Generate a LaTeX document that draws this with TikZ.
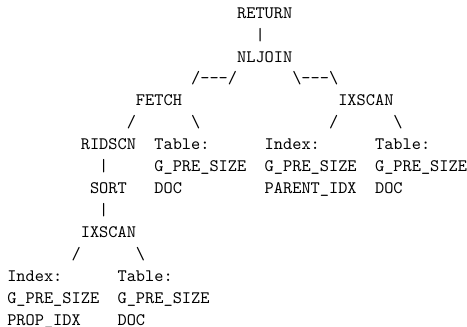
\documentclass[tikz,border=0pt]{standalone}
\usepackage{fontspec}
\usepackage{tikz}
\tikzset{
  tok/.style={font=\ttfamily,anchor=base west,inner sep=0pt,outer sep=0pt},
  every picture/.style={x=5.25pt,y=-12.52pt}
}
\begin{document}
\begin{tikzpicture}
  \useasboundingbox (-0.79,-0.83) rectangle (50,14.07);
  % top of the plan
  \node[tok] (ret) at (25,0) {RETURN};
  \node[tok] (b1) at (27,1) {|};
  \node[tok] (nlj) at (25,2) {NLJOIN};
  \node[tok] (lj) at (20,3) {/---/}; \node[tok] (rj) at (31,3) {\textbackslash---\textbackslash};
  \node[tok] (fetch) at (14,4) {FETCH}; \node[tok] (ixs) at (36,4) {IXSCAN};
  \node[tok] (s1) at (13,5) {/}; \node[tok] (s2) at (20,5) {\textbackslash};
  \node[tok] (s3) at (35,5) {/}; \node[tok] (s4) at (42,5) {\textbackslash};
  % second level
  \node[tok] (rid) at (8,6) {RIDSCN}; \node[tok] (t1) at (16,6) {Table:};
  \node[tok] (i1) at (28,6) {Index:}; \node[tok] (t2) at (40,6) {Table:};
  \node[tok] (b2) at (10,7) {|}; \node[tok] (t1a) at (16,7) {G\_PRE\_SIZE};
  \node[tok] (i1a) at (28,7) {G\_PRE\_SIZE}; \node[tok] (t2a) at (40,7) {G\_PRE\_SIZE};
  \node[tok] (sort) at (9,8) {SORT}; \node[tok] (t1b) at (16,8) {DOC};
  \node[tok] (i1b) at (28,8) {PARENT\_IDX}; \node[tok] (t2b) at (40,8) {DOC};
  % under the sort
  \node[tok] (b3) at (10,9) {|};
  \node[tok] (ixs2) at (8,10) {IXSCAN};
  \node[tok] (s5) at (7,11) {/}; \node[tok] (s6) at (14,11) {\textbackslash};
  \node[tok] (i2) at (0,12) {Index:}; \node[tok] (t3) at (12,12) {Table:};
  \node[tok] (i2a) at (0,13) {G\_PRE\_SIZE}; \node[tok] (t3a) at (12,13) {G\_PRE\_SIZE};
  \node[tok] (i2b) at (0,14) {PROP\_IDX}; \node[tok] (t3b) at (12,14) {DOC};
\end{tikzpicture}
\end{document}
